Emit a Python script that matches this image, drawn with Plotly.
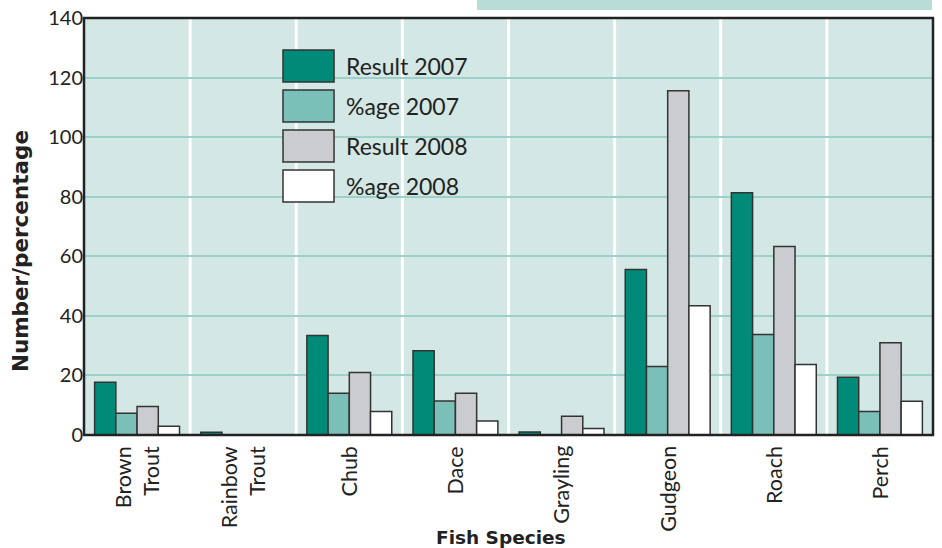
import plotly.graph_objects as go

species = ["Brown Trout", "Rainbow Trout", "Chub", "Dace", "Grayling", "Gudgeon", "Roach", "Perch"]
tick_labels = ["Brown<br>Trout", "Rainbow<br>Trout", "Chub", "Dace", "Grayling", "Gudgeon", "Roach", "Perch"]
result_2007 = [17.7, 0.9, 33.4, 28.3, 1.0, 55.6, 81.3, 19.4]
pct_2007 = [7.3, 0, 14.0, 11.4, 0, 23.0, 33.7, 7.9]
result_2008 = [9.6, 0, 21.0, 14.0, 6.3, 115.6, 63.3, 31.0]
pct_2008 = [2.9, 0, 7.9, 4.7, 2.2, 43.4, 23.7, 11.3]
series_names = ["Result 2007", "%age 2007", "Result 2008", "%age 2008"]
series_colors = ["#008b78", "#7abfb8", "#cbcccf", "#ffffff"]
y_ticks = [0, 20, 40, 60, 80, 100, 120, 140]

REG = "Lato"
BOLD = "DejaVu Sans"

fig = go.Figure()
for name, vals, col in zip(series_names, [result_2007, pct_2007, result_2008, pct_2008], series_colors):
    fig.add_trace(go.Bar(
        x=species, y=vals, name=name,
        marker=dict(color=col, line=dict(color="#333333", width=1.5)),
        showlegend=False, hoverinfo="skip",
    ))

shapes = []
# white vertical separators between categories
for i in range(len(species) - 1):
    shapes.append(dict(type="line", xref="x", yref="paper", x0=i + 0.5, x1=i + 0.5, y0=0, y1=1,
                       line=dict(color="white", width=3), layer="between"))
# plot border
shapes.append(dict(type="rect", xref="paper", yref="paper", x0=0, x1=1, y0=0, y1=1,
                   line=dict(color="#222222", width=2.5), layer="above"))
# decorative band at the top
shapes.append(dict(type="rect", xref="paper", yref="paper", x0=0.4629, x1=0.9988, y0=1.0192, y1=1.05,
                   line=dict(width=0), fillcolor="#b8dcd6", layer="above"))

annotations = []
# category labels (rotated, line ends aligned at the top)
for cat, lab in zip(species, tick_labels):
    annotations.append(dict(xref="x", yref="paper", x=cat, y=-0.022, text=lab, textangle=-90,
                            showarrow=False, xanchor="center", yanchor="top", align="right",
                            font=dict(family=REG, size=21.5, color="#222222")))

# manual legend
leg_rows = [(0.9233, 0.8465), (0.8273, 0.7506), (0.7314, 0.6547), (0.6355, 0.5588)]
for (y1, y0), name, col in zip(leg_rows, series_names, series_colors):
    shapes.append(dict(type="rect", xref="paper", yref="paper", x0=0.2344, x1=0.2945, y0=y0, y1=y1,
                       fillcolor=col, line=dict(color="#333333", width=1.5), layer="above"))
    annotations.append(dict(xref="paper", yref="paper", x=0.3062, y=(y0 + y1) / 2, text=name,
                            showarrow=False, xanchor="left", yanchor="middle",
                            font=dict(family=REG, size=23, color="#222222")))

# axis titles
annotations.append(dict(xref="paper", yref="paper", x=0.491, y=-0.245, text="<b>Fish Species</b>",
                        showarrow=False, xanchor="center", yanchor="middle",
                        font=dict(family=BOLD, size=18.5, color="#222222")))
annotations.append(dict(xref="paper", yref="paper", x=-0.0754, y=0.441, text="<b>Number/percentage</b>",
                        showarrow=False, xanchor="center", yanchor="middle", textangle=-90,
                        font=dict(family=BOLD, size=21.5, color="#222222")))

fig.update_layout(
    width=942, height=548,
    margin=dict(l=84, r=9, t=18, b=113),
    paper_bgcolor="white",
    plot_bgcolor="#d3e7e4",
    barmode="group", bargap=0.2, bargroupgap=0,
    shapes=shapes, annotations=annotations,
    xaxis=dict(
        showticklabels=False, showgrid=False, ticks="", automargin=False,
        showline=False, zeroline=False,
    ),
    yaxis=dict(
        range=[0, 140], tickvals=y_ticks, ticks="", automargin=False,
        tickfont=dict(family=REG, size=20, color="#222222"),
        showgrid=True, gridcolor="#9dd0c8", gridwidth=2, zeroline=False, showline=False,
    ),
)

fig.write_html("out.html", config={"displayModeBar": False, "staticPlot": True},
               post_script="document.body.style.margin='0';document.body.style.padding='0';")
